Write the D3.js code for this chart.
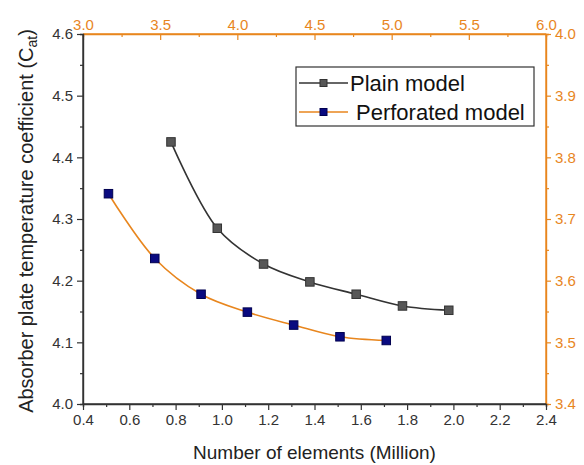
<!DOCTYPE html>
<html>
<head>
<meta charset="utf-8">
<script src="https://cdn.jsdelivr.net/npm/d3@7"></script>
<style>
  body { margin: 0; background: #fff; }
  text { font-family: "Liberation Sans", Arial, sans-serif; }
</style>
</head>
<body>
<script>
// data
var plainX = [0.78, 0.98, 1.18, 1.38, 1.58, 1.78, 1.98];
var plainY = [4.425, 4.285, 4.227, 4.198, 4.178, 4.159, 4.152];
var perfX = [0.51, 0.71, 0.91, 1.11, 1.31, 1.51, 1.71];
var perfY = [4.341, 4.236, 4.178, 4.149, 4.128, 4.109, 4.103];

var bottomTicks = [0.4, 0.6, 0.8, 1.0, 1.2, 1.4, 1.6, 1.8, 2.0, 2.2, 2.4];
var leftTicks = [4.0, 4.1, 4.2, 4.3, 4.4, 4.5, 4.6];
var topTicks = [3.0, 3.5, 4.0, 4.5, 5.0, 5.5, 6.0];
var rightTicks = [3.4, 3.5, 3.6, 3.7, 3.8, 3.9, 4.0];

var W = 584, H = 465;
var L = 83, R = 546, T = 34, B = 404;
var dark = "#333", orange = "#e8861e";

var svg = d3.select("body").append("svg").attr("width", W).attr("height", H);

var x = d3.scaleLinear().domain([0.4, 2.4]).range([L, R]);
var y = d3.scaleLinear().domain([4.0, 4.6]).range([B, T]);
var x2 = d3.scaleLinear().domain([3.0, 6.0]).range([L, R]);
var y2 = d3.scaleLinear().domain([3.4, 4.0]).range([B, T]);

function mids(arr) {
  var out = [];
  for (var i = 0; i < arr.length - 1; i++) out.push((arr[i] + arr[i + 1]) / 2);
  return out;
}

function drawAxis(axisFn, scale, ticks, pos, color, majorLen, minorLen) {
  var g = svg.append("g").attr("transform", pos);
  g.call(axisFn(scale).tickValues(mids(ticks)).tickSize(minorLen).tickFormat(""));
  var gm = svg.append("g").attr("transform", pos);
  gm.call(axisFn(scale).tickValues(ticks).tickSize(majorLen).tickPadding(4).tickFormat(d3.format(".1f")));
  [g, gm].forEach(function (s) {
    s.selectAll("path").attr("stroke", color).attr("stroke-width", 1.4);
    s.selectAll("line").attr("stroke", color).attr("stroke-width", 1.2);
    s.selectAll("text").attr("fill", color).style("font-size", "15px")
      .style("font-family", "'Liberation Sans', Arial, sans-serif");
  });
  return gm;
}

// orange secondary axes first, black primary on top
drawAxis(d3.axisTop, x2, topTicks, "translate(0," + T + ")", orange, -6, -3)
  .selectAll(".domain").attr("d", "M" + L + ",0H" + R);
drawAxis(d3.axisRight, y2, rightTicks, "translate(" + R + ",0)", orange, 5, 3)
  .selectAll(".domain").attr("d", "M0," + B + "V" + T);
drawAxis(d3.axisBottom, x, bottomTicks, "translate(0," + B + ")", dark, 6, 3)
  .selectAll(".domain").attr("d", "M" + L + ",0H" + R);
drawAxis(d3.axisLeft, y, leftTicks, "translate(" + L + ",0)", dark, 6, 3)
  .selectAll(".domain").attr("d", "M0," + B + "V" + T);

// axis titles
svg.append("text")
  .attr("x", (L + R) / 2).attr("y", 459)
  .attr("text-anchor", "middle")
  .style("font-size", "19px").attr("fill", "#222")
  .text("Number of elements (Million)");

var yt = svg.append("text")
  .attr("transform", "translate(33," + ((T + B) / 2 + 2) + ") rotate(-90)")
  .attr("text-anchor", "middle")
  .style("font-size", "20px").attr("fill", "#222");
yt.append("tspan").text("Absorber plate temperature coefficient (C");
yt.append("tspan").attr("dy", 4).style("font-size", "14px").text("at");
yt.append("tspan").attr("dy", -4).text(")");

// series
var line = d3.line()
  .x(function (d) { return x(d[0]); })
  .y(function (d) { return y(d[1]); })
  .curve(d3.curveCatmullRom.alpha(0.5));

var plain = d3.zip(plainX, plainY);
var perf = d3.zip(perfX, perfY);

svg.append("path").datum(plain).attr("d", line)
  .attr("fill", "none").attr("stroke", "#333").attr("stroke-width", 1.6);
svg.append("path").datum(perf).attr("d", line)
  .attr("fill", "none").attr("stroke", orange).attr("stroke-width", 1.6);

var ms = 8.5;
svg.selectAll(".pm").data(plain).enter().append("rect")
  .attr("x", function (d) { return x(d[0]) - ms / 2; })
  .attr("y", function (d) { return y(d[1]) - ms / 2; })
  .attr("width", ms).attr("height", ms)
  .attr("fill", "#575757").attr("stroke", "#333").attr("stroke-width", 1);
svg.selectAll(".fm").data(perf).enter().append("rect")
  .attr("x", function (d) { return x(d[0]) - ms / 2; })
  .attr("y", function (d) { return y(d[1]) - ms / 2; })
  .attr("width", ms).attr("height", ms)
  .attr("fill", "#0a0a80").attr("stroke", "#000050").attr("stroke-width", 1);

// legend
var lg = svg.append("g");
lg.append("rect").attr("x", 296).attr("y", 67).attr("width", 238).attr("height", 59)
  .attr("fill", "#fff").attr("stroke", "#333").attr("stroke-width", 1.2);
var items = [
  { name: "Plain model", line: "#333", fill: "#575757", stroke: "#333", y: 83, tx: 350 },
  { name: "Perforated model", line: orange, fill: "#0a0a80", stroke: "#000050", y: 112, tx: 356 }
];
items.forEach(function (it) {
  lg.append("line").attr("x1", 299).attr("x2", 348).attr("y1", it.y).attr("y2", it.y)
    .attr("stroke", it.line).attr("stroke-width", 1.6);
  lg.append("rect").attr("x", 320).attr("y", it.y - 3.5).attr("width", 7).attr("height", 7)
    .attr("fill", it.fill).attr("stroke", it.stroke);
  lg.append("text").attr("x", it.tx).attr("y", it.y + 8)
    .style("font-size", "22px").attr("fill", "#111").text(it.name);
});
</script>
</body>
</html>
